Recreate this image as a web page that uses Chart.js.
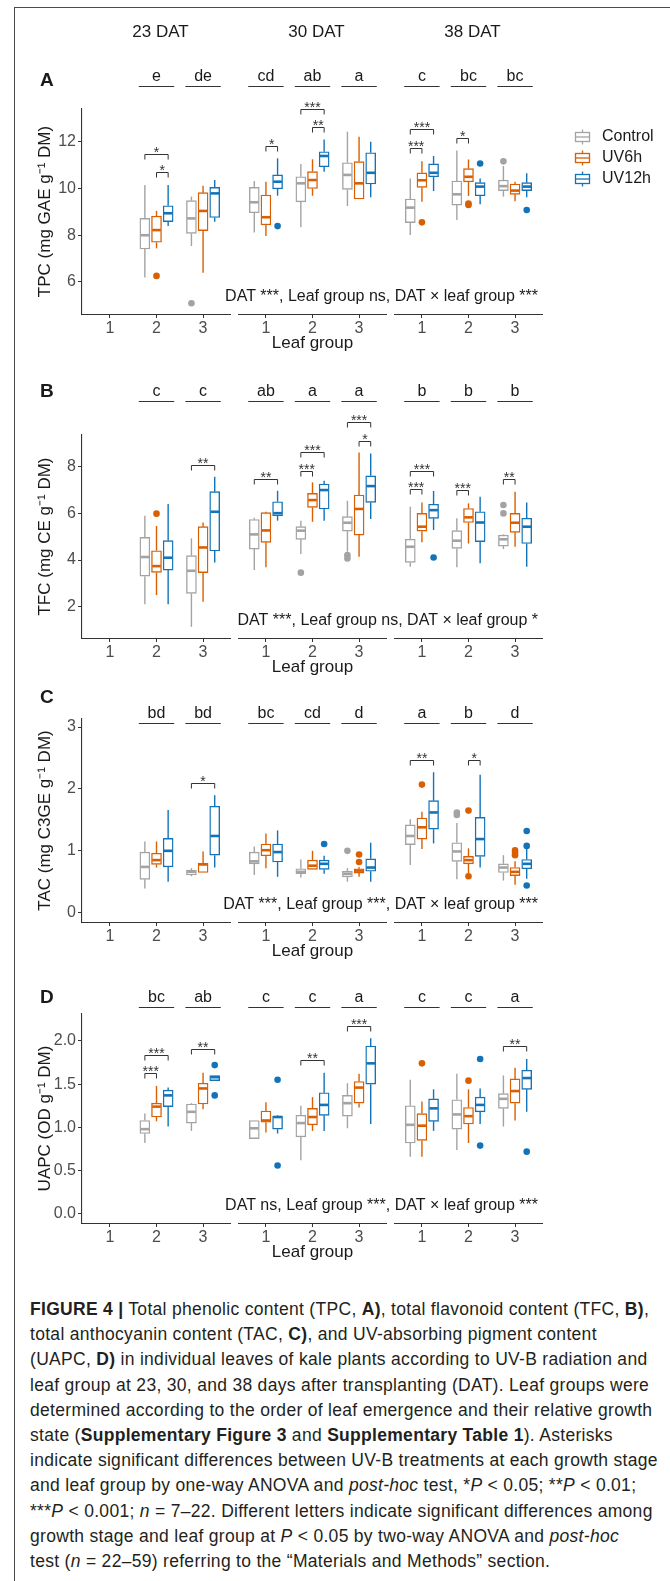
<!DOCTYPE html>
<html>
<head>
<meta charset="utf-8">
<script src="https://cdn.jsdelivr.net/npm/chart.js@4.4.1/dist/chart.umd.min.js"></script>
<style>
  body { margin: 0; background: #fff; }
  #fig { position: relative; width: 670px; height: 1581px; overflow: hidden; font-family: "Liberation Sans", Arial, sans-serif; }
  .frameTop { position: absolute; left: 14px; right: 0; top: 7px; border-top: 1.5px solid #4a4a4a; }
  .frameLeft { position: absolute; left: 14px; top: 7px; bottom: 0; border-left: 1.5px solid #4a4a4a; }
  canvas { position: absolute; left: 0; }
  #caption { position: absolute; left: 30px; top: 1297px; font-size: 17.5px; letter-spacing: 0.3px; line-height: 25.2px; color: #231f20; white-space: nowrap; }
</style>
</head>
<body>
<div id="fig">
  <div class="frameTop"></div>
  <div class="frameLeft"></div>
  <canvas id="cA" width="670" height="355" style="top:0px"></canvas>
  <canvas id="cB" width="670" height="330" style="top:355px"></canvas>
  <canvas id="cC" width="670" height="280" style="top:685px"></canvas>
  <canvas id="cD" width="670" height="305" style="top:965px"></canvas>
  <div id="caption">
    <div><b>FIGURE 4 |</b> Total phenolic content (TPC, <b>A)</b>, total flavonoid content (TFC, <b>B)</b>,</div>
    <div>total anthocyanin content (TAC, <b>C)</b>, and UV-absorbing pigment content</div>
    <div>(UAPC, <b>D)</b> in individual leaves of kale plants according to UV-B radiation and</div>
    <div>leaf group at 23, 30, and 38 days after transplanting (DAT). Leaf groups were</div>
    <div>determined according to the order of leaf emergence and their relative growth</div>
    <div>state (<b>Supplementary Figure 3</b> and <b>Supplementary Table 1</b>). Asterisks</div>
    <div>indicate significant differences between UV-B treatments at each growth stage</div>
    <div>and leaf group by one-way ANOVA and <i>post-hoc</i> test, *<i>P</i> &lt; 0.05; **<i>P</i> &lt; 0.01;</div>
    <div>***<i>P</i> &lt; 0.001; <i>n</i> = 7–22. Different letters indicate significant differences among</div>
    <div>growth stage and leaf group at <i>P</i> &lt; 0.05 by two-way ANOVA and <i>post-hoc</i></div>
    <div>test (<i>n</i> = 22–59) referring to the “Materials and Methods” section.</div>
  </div>
</div>
<script>
// slots: 23 DAT leaf 1..3, 30 DAT leaf 1..3, 38 DAT leaf 1..3
const facetTitles = ['23 DAT', '30 DAT', '38 DAT'];
const leafGroups = ['1', '2', '3'];
const treatments = ['Control', 'UV6h', 'UV12h'];
const colors = ['#a3a3a3', '#d95f02', '#1273b9'];

// box stats per slot: [min, q1, median, q3, max]
// A - TPC
const tpcControl = [null, [6.19,7.41,8.00,8.72,10.15], [7.54,8.08,8.72,9.48,9.65], [8.12,8.96,9.41,10.05,10.32], [8.34,9.43,10.22,10.50,11.05], [9.25,9.96,10.58,11.10,12.43], [8.01,8.54,9.18,9.55,10.43], [8.65,9.29,9.75,10.32,11.62], [9.65,9.91,10.10,10.36,10.96]];
const tpcUV6h    = [null, [7.44,7.70,8.22,8.82,9.04], [6.40,8.20,9.04,9.82,10.12], [7.97,8.44,8.77,9.72,10.29], [9.69,10.00,10.36,10.72,11.25], [9.55,9.55,10.22,11.15,12.21], [9.43,10.05,10.35,10.67,11.17], [9.68,10.28,10.50,10.85,11.24], [9.45,9.75,9.91,10.19,10.29]];
const tpcUV12h   = [null, [8.39,8.58,8.94,9.26,10.15], [8.58,8.76,9.79,10.05,10.36], [9.69,9.98,10.29,10.58,11.29], [10.72,10.93,11.39,11.57,12.10], [9.62,10.19,10.67,11.53,12.00], [9.89,10.50,10.67,11.05,11.39], [9.32,9.69,10.08,10.25,10.43], [9.62,9.91,10.08,10.25,10.65]];
// outliers: [slot, value]
const tpcOutControl = [[2,5.09],[8,11.16]];
const tpcOutUV6h    = [[1,6.26],[6,8.55],[7,9.29],[7,9.35]];
const tpcOutUV12h   = [[3,8.39],[7,11.07],[8,9.08]];
// brackets: [slot, from, to, level, label]
const tpcBrackets = [[1,0,2,11.47,'*'],[1,1,2,10.70,'*'],[3,1,2,11.83,'*'],[4,0,2,13.40,'***'],[4,1,2,12.62,'**'],[6,0,2,12.54,'***'],[6,0,1,11.73,'***'],[7,0,1,12.16,'*']];
const tpcLetters = ['', 'e', 'de', 'cd', 'ab', 'a', 'c', 'bc', 'bc'];
const tpcTicks = [6, 8, 10, 12];

// B - TFC
const tfcControl = [null, [2.11,3.31,4.13,4.97,5.90], [1.14,2.57,3.54,4.19,4.93], [3.57,4.47,5.10,5.74,5.81], [4.26,4.89,5.26,5.43,5.69], [4.36,5.24,5.60,5.86,6.54], [3.71,3.90,4.57,4.89,6.29], [3.69,4.50,4.83,5.26,5.79], [4.47,4.60,4.89,5.07,5.10]];
const tfcUV6h    = [null, [2.50,3.47,3.74,4.40,5.46], [2.21,3.46,4.54,5.43,5.61], [3.69,4.76,5.27,6.03,6.07], [5.64,6.26,6.57,6.86,7.33], [4.14,5.07,6.19,6.79,8.61], [4.76,5.24,5.43,6.00,6.47], [4.71,5.61,5.83,6.21,6.43], [4.57,5.19,5.60,6.00,6.93]];
const tfcUV12h   = [null, [2.11,3.57,4.10,4.83,6.40], [3.90,4.39,6.07,6.93,7.57], [5.69,5.90,6.01,6.50,6.97], [5.69,6.19,7.00,7.26,7.40], [5.76,6.47,7.17,7.61,8.57], [5.29,5.79,6.14,6.39,6.96], [3.86,4.79,5.61,6.07,6.71], [3.71,4.71,5.43,5.79,6.47]];
const tfcOutControl = [[4,3.46],[5,4.21],[5,4.07],[8,6.36],[8,6.00]];
const tfcOutUV6h    = [[1,5.99]];
const tfcOutUV12h   = [[6,4.11]];
const tfcBrackets = [[2,0,2,8.07,'**'],[3,0,2,7.47,'**'],[4,0,2,8.64,'***'],[4,0,1,7.83,'***'],[5,0,2,9.91,'***'],[5,1,2,9.11,'*'],[6,0,2,7.83,'***'],[6,0,1,7.04,'***'],[7,0,1,6.99,'***'],[8,0,1,7.46,'**']];
const tfcLetters = ['', 'c', 'c', 'ab', 'a', 'a', 'b', 'b', 'b'];
const tfcTicks = [2, 4, 6, 8];

// C - TAC
const tacControl = [null, [0.39,0.54,0.74,0.98,1.15], [0.59,0.61,0.66,0.69,0.72], [0.61,0.79,0.83,0.98,1.07], [0.57,0.63,0.66,0.71,0.86], [0.50,0.58,0.63,0.67,0.72], [0.77,1.10,1.24,1.42,1.51], [0.54,0.83,0.99,1.13,1.45], [0.52,0.65,0.73,0.79,0.93]];
const tacUV6h    = [null, [0.73,0.78,0.85,0.96,1.15], [0.65,0.65,0.78,0.80,0.99], [0.72,0.92,1.01,1.11,1.28], [0.70,0.70,0.76,0.85,1.00], [0.58,0.64,0.68,0.71,0.74], [1.03,1.19,1.38,1.53,1.63], [0.64,0.79,0.85,0.91,1.04], [0.45,0.60,0.66,0.73,0.83]];
const tacUV12h   = [null, [0.50,0.74,1.00,1.20,1.66], [0.73,0.93,1.24,1.72,1.90], [0.58,0.82,0.98,1.11,1.33], [0.63,0.70,0.79,0.85,0.92], [0.50,0.67,0.73,0.87,1.13], [1.12,1.35,1.62,1.81,2.27], [0.73,0.91,1.19,1.54,2.23], [0.55,0.71,0.79,0.86,1.06]];
const tacOutControl = [[5,1.00],[7,1.62],[7,1.58]];
const tacOutUV6h    = [[5,0.94],[5,0.82],[6,2.07],[7,1.65],[7,0.59],[8,1.01],[8,0.97],[8,0.93]];
const tacOutUV12h   = [[4,1.11],[8,1.32],[8,1.08],[8,0.44]];
const tacBrackets = [[2,0,2,2.09,'*'],[6,0,2,2.47,'**'],[7,1,2,2.47,'*']];
const tacLetters = ['', 'bd', 'bd', 'bc', 'cd', 'd', 'a', 'b', 'd'];
const tacTicks = [0, 1, 2, 3];

// D - UAPC
const uapcControl = [null, [0.82,0.93,0.98,1.08,1.16], [0.96,1.05,1.18,1.27,1.28], [0.87,0.87,0.99,1.08,1.08], [0.62,0.89,1.05,1.14,1.25], [0.99,1.13,1.28,1.37,1.51], [0.66,0.82,1.03,1.25,1.55], [0.74,0.98,1.15,1.32,1.62], [1.01,1.22,1.33,1.39,1.60]];
const uapcUV6h    = [null, [1.07,1.12,1.24,1.28,1.48], [1.21,1.27,1.45,1.51,1.63], [0.94,1.06,1.08,1.19,1.29], [0.96,1.03,1.12,1.22,1.35], [1.23,1.28,1.46,1.53,1.62], [0.66,0.85,1.02,1.16,1.30], [0.82,1.04,1.13,1.23,1.44], [1.08,1.28,1.42,1.56,1.69]];
const uapcUV12h   = [null, [1.01,1.24,1.37,1.43,1.46], [1.54,1.54,1.58,1.60,1.60], [0.93,0.98,1.12,1.13,1.14], [0.96,1.14,1.26,1.40,1.63], [1.04,1.50,1.74,1.94,2.03], [0.96,1.07,1.22,1.33,1.44], [1.04,1.18,1.26,1.35,1.45], [1.18,1.44,1.57,1.66,1.79]];
const uapcOutControl = [];
const uapcOutUV6h    = [[6,1.74],[7,1.54]];
const uapcOutUV12h   = [[2,1.72],[2,1.37],[3,1.55],[3,0.56],[7,1.79],[7,0.79],[8,0.72]];
const uapcBrackets = [[1,0,2,1.84,'***'],[1,0,1,1.63,'***'],[2,0,2,1.90,'**'],[4,0,2,1.78,'**'],[5,0,2,2.17,'***'],[8,0,2,1.94,'**']];
const uapcLetters = ['', 'bc', 'ab', 'c', 'c', 'a', 'c', 'c', 'a'];
const uapcTicks = [0, 0.5, 1, 1.5, 2];

const FONT = '"Liberation Sans", Arial, sans-serif';
const FACET_STEP = 3.35;   // x units between facets (3.2 wide + gap)
const DODGE = 0.25;
Chart.defaults.font.family = FONT;
Chart.defaults.color = '#333';

function xPos(slot, t) {
  const k = Math.floor(slot / 3);
  const c = slot % 3 + 1;
  return k * FACET_STEP + c + (t === undefined ? 0 : (t - 1) * DODGE);
}
const xTicks = [0,1,2,3,4,5,6,7,8].map(s => xPos(s));

const panels = [
  {id:'cA', tag:'A', yTitle:'TPC (mg GAE g⁻¹ DM)', min:4.63, max:13.4, ticks:tpcTicks, dec:0,
   boxes:[tpcControl, tpcUV6h, tpcUV12h], outs:[tpcOutControl, tpcOutUV6h, tpcOutUV12h],
   brackets:tpcBrackets, letters:tpcLetters, letterLevel:14.38,
   note:'DAT ***, Leaf group ns, DAT × leaf group ***',
   h:355, top:109, bottom:314, tagY:81, head:true},
  {id:'cB', tag:'B', yTitle:'TFC (mg CE g⁻¹ DM)', min:0.66, max:9.36, ticks:tfcTicks, dec:0,
   boxes:[tfcControl, tfcUV6h, tfcUV12h], outs:[tfcOutControl, tfcOutUV6h, tfcOutUV12h],
   brackets:tfcBrackets, letters:tfcLetters, letterLevel:10.82,
   note:'DAT ***, Leaf group ns, DAT × leaf group *',
   h:330, top:80, bottom:283, tagY:37},
  {id:'cC', tag:'C', yTitle:'TAC (mg C3GE g⁻¹ DM)', min:-0.15, max:3.13, ticks:tacTicks, dec:0,
   boxes:[tacControl, tacUV6h, tacUV12h], outs:[tacOutControl, tacOutUV6h, tacOutUV12h],
   brackets:tacBrackets, letters:tacLetters, letterLevel:3.07,
   note:'DAT ***, Leaf group ***, DAT × leaf group ***',
   h:280, top:34, bottom:237, tagY:13},
  {id:'cD', tag:'D', yTitle:'UAPC (OD g⁻¹ DM)', min:-0.104, max:2.31, ticks:uapcTicks, dec:1,
   boxes:[uapcControl, uapcUV6h, uapcUV12h], outs:[uapcOutControl, uapcOutUV6h, uapcOutUV12h],
   brackets:uapcBrackets, letters:uapcLetters, letterLevel:2.39,
   note:'DAT ns, Leaf group ***, DAT × leaf group ***',
   h:305, top:49, bottom:258, tagY:33}
];

function hline(ctx, x1, y1, x2, y2) {
  ctx.beginPath(); ctx.moveTo(x1, y1); ctx.lineTo(x2, y2); ctx.stroke();
}

function marksPlugin(p) {
  return {
    id: 'marks' + p.tag,
    afterDatasetsDraw(chart) {
      const ctx = chart.ctx, ys = chart.scales.y;
      chart.data.datasets.forEach((ds, i) => {
        if (ds.type !== 'bar') return;
        const meta = chart.getDatasetMeta(i);
        ctx.save();
        ctx.strokeStyle = ds.borderColor;
        meta.data.forEach((bar, j) => {
          const s = ds.data[j].s;
          ctx.lineWidth = 1.4;
          hline(ctx, bar.x, ys.getPixelForValue(s[3]), bar.x, ys.getPixelForValue(s[4]));
          hline(ctx, bar.x, ys.getPixelForValue(s[1]), bar.x, ys.getPixelForValue(s[0]));
          ctx.lineWidth = 2.6;
          const ym = ys.getPixelForValue(s[2]);
          hline(ctx, bar.x - bar.width / 2 + 0.7, ym, bar.x + bar.width / 2 - 0.7, ym);
        });
        ctx.restore();
      });
    },
    afterDraw(chart) {
      const ctx = chart.ctx, xs = chart.scales.x, ys = chart.scales.y, area = chart.chartArea;
      ctx.save();
      ctx.strokeStyle = '#333';
      ctx.lineWidth = 1.1;
      // broken x axis, one segment per DAT facet
      for (let k = 0; k < 3; k++) {
        hline(ctx, xs.getPixelForValue(k * FACET_STEP + 0.4), area.bottom + 0.5,
                   xs.getPixelForValue(k * FACET_STEP + 3.6), area.bottom + 0.5);
      }
      // significance brackets
      ctx.lineWidth = 1;
      ctx.fillStyle = '#333';
      ctx.font = '14px ' + FONT;
      ctx.textAlign = 'center';
      ctx.textBaseline = 'alphabetic';
      p.brackets.forEach(([slot, a, b, level, label]) => {
        const x1 = xs.getPixelForValue(xPos(slot, a));
        const x2 = xs.getPixelForValue(xPos(slot, b));
        const y = Math.round(ys.getPixelForValue(level)) + 0.5;
        ctx.beginPath();
        ctx.moveTo(x1, y + 5); ctx.lineTo(x1, y); ctx.lineTo(x2, y); ctx.lineTo(x2, y + 5);
        ctx.stroke();
        ctx.fillText(label, (x1 + x2) / 2, y + 2);
      });
      // group letters with underline
      ctx.font = '16px ' + FONT;
      ctx.fillStyle = '#1a1a1a';
      ctx.textBaseline = 'middle';
      const ly = Math.round(ys.getPixelForValue(p.letterLevel)) + 0.5;
      p.letters.forEach((txt, slot) => {
        if (!txt) return;
        const xc = xs.getPixelForValue(xPos(slot));
        hline(ctx, xs.getPixelForValue(xPos(slot) - 0.38), ly, xs.getPixelForValue(xPos(slot) + 0.38), ly);
        ctx.fillText(txt, xc, ly - 10);
      });
      // ANOVA note
      ctx.textAlign = 'right';
      ctx.fillText(p.note, area.right - 5, area.bottom - 17);
      // panel tag
      ctx.textAlign = 'left';
      ctx.font = 'bold 19px ' + FONT;
      ctx.fillText(p.tag, 40, p.tagY);
      if (p.head) {
        // facet titles
        ctx.font = '17px ' + FONT;
        ctx.textAlign = 'center';
        facetTitles.forEach((t, k) => {
          ctx.fillText(t, xs.getPixelForValue(k * FACET_STEP + 2) + 4, 32);
        });
        // legend
        ctx.font = '16px ' + FONT;
        ctx.textAlign = 'left';
        treatments.forEach((name, t) => {
          const cy = 137 + t * 21;
          const gx = area.right + 32;
          ctx.strokeStyle = colors[t];
          ctx.lineWidth = 1.3;
          hline(ctx, gx + 7.5, cy - 7.5, gx + 7.5, cy + 7.5);
          ctx.fillStyle = '#fff';
          ctx.fillRect(gx, cy - 5, 15, 10);
          ctx.strokeRect(gx + 0.5, cy - 4.5, 14, 9);
          hline(ctx, gx, cy, gx + 15, cy);
          ctx.fillStyle = '#1a1a1a';
          ctx.fillText(name, gx + 27, cy);
        });
      }
      ctx.restore();
    }
  };
}

function makeChart(p) {
  const datasets = [];
  treatments.forEach((name, t) => {
    const rows = [];
    p.boxes[t].forEach((b, s) => { if (b) rows.push({x: xPos(s, t), y: [b[1], b[3]], s: b}); });
    datasets.push({
      type: 'bar', label: name, data: rows,
      backgroundColor: '#ffffff', borderColor: colors[t], borderWidth: 1.4,
      borderSkipped: false, barThickness: 10, grouped: false, order: 2
    });
  });
  treatments.forEach((name, t) => {
    datasets.push({
      type: 'scatter', label: name + ' outliers',
      data: p.outs[t].map(([s, v]) => ({x: xPos(s, t), y: v})),
      backgroundColor: colors[t], borderWidth: 0, pointRadius: 3.3, pointHoverRadius: 3.3, order: 1
    });
  });

  new Chart(document.getElementById(p.id), {
    type: 'bar',
    data: { datasets },
    options: {
      responsive: false,
      animation: false,
      events: [],
      layout: { padding: { left: 0, right: 127, top: p.top, bottom: p.h - p.bottom - 40 } },
      plugins: { legend: { display: false }, tooltip: { enabled: false } },
      scales: {
        x: {
          type: 'linear', min: 0.4, max: 10.3, offset: false, bounds: 'data',
          afterFit: s => { s.height = 40; },
          afterBuildTicks: s => { s.ticks = xTicks.map(v => ({value: v})); },
          ticks: { callback: (v, i) => leafGroups[i % 3], autoSkip: false, maxRotation: 0,
                   color: '#4d4d4d', font: { size: 16 }, padding: 1 },
          grid: { display: true, drawOnChartArea: false, drawTicks: true, tickLength: 4, color: '#333', offset: false },
          border: { display: false },
          title: { display: true, text: 'Leaf group', color: '#1a1a1a', font: { size: 17 }, padding: { top: 0, bottom: 0 } }
        },
        y: {
          type: 'linear', min: p.min, max: p.max, bounds: 'data',
          afterFit: s => { s.width = 82; },
          afterBuildTicks: s => { s.ticks = p.ticks.map(v => ({value: v})); },
          ticks: { callback: v => v.toFixed(p.dec), color: '#4d4d4d', font: { size: 16 }, padding: 2 },
          grid: { display: true, drawOnChartArea: false, drawTicks: true, tickLength: 4, color: '#333' },
          border: { display: true, color: '#333', width: 1.1 },
          title: { display: true, text: p.yTitle, color: '#1a1a1a', font: { size: 17 }, padding: { top: 35, bottom: 0 } }
        }
      }
    },
    plugins: [marksPlugin(p)]
  });
}

panels.forEach(makeChart);
</script>
</body>
</html>
